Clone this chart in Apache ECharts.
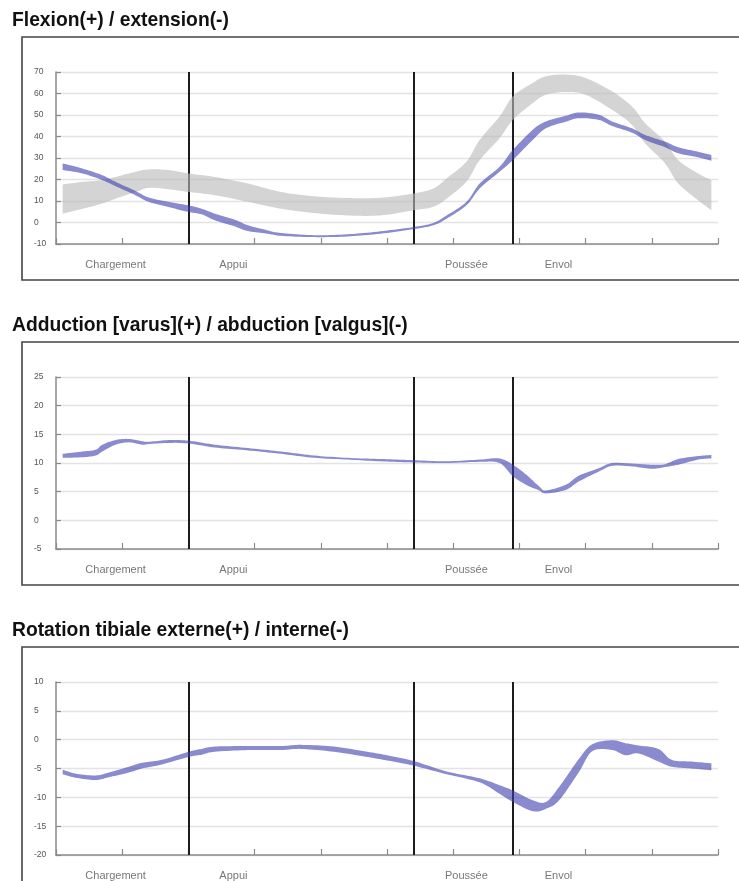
<!DOCTYPE html>
<html><head><meta charset="utf-8">
<script src="https://cdn.jsdelivr.net/npm/echarts@6/dist/echarts.min.js"></script>
<style>html,body{margin:0;padding:0;background:#fff}#c{width:739px;height:881px}</style>
</head><body><div id="c"></div>
<script>
// ---- text / axes ----
const titles = ['Flexion(+) / extension(-)', 'Adduction [varus](+) / abduction [valgus](-)', 'Rotation tibiale externe(+) / interne(-)'];
const yMin = [-10, -5, -20];
const yMax = [70, 25, 10];
const yStep = [10, 5, 5];
const phaseX = [20, 54, 69];
const phaseNames = ['Chargement', 'Appui', 'Poussée', 'Envol'];
const phaseLabelX = [9, 26.8, 62, 75.9];

// ---- panel 1 : flexion / extension ----
const flexNormX    = [1, 4, 7, 9, 12, 14, 17, 20, 24, 29, 34, 39, 44, 49, 54, 57, 59, 62, 64, 67, 69, 72, 74, 77, 80, 84, 87, 89, 92, 94, 97, 99];
const flexNormLow  = [4.1, 6.4, 8.8, 11.1, 14.2, 16.1, 15.5, 14.2, 12.7, 9.6, 6.4, 4.4, 3.3, 3.3, 5.7, 7.3, 11.1, 19.0, 29.0, 39.2, 47.7, 55.5, 59.4, 60.7, 59.4, 52.4, 45.4, 36.8, 27.5, 18.1, 10.3, 5.7];
const flexNormHigh = [17.7, 18.9, 19.7, 21.2, 23.6, 24.7, 24.4, 22.8, 21.2, 18.1, 14.2, 12.2, 11.4, 11.5, 13.5, 15.8, 20.5, 28.3, 38.4, 49.3, 58.6, 64.9, 68.0, 68.8, 67.2, 61.0, 54.0, 46.2, 37.6, 29.0, 22.8, 19.7];
const flexPatX     = [1, 4, 7, 9, 12, 14, 17, 20, 22, 24, 27, 29, 32, 34, 39, 44, 49, 54, 57, 59, 62, 64, 67, 69, 72, 74, 77, 79, 82, 84, 87, 89, 92, 94, 97, 99];
const flexPatLow   = [24.4, 22.8, 19.7, 16.9, 12.7, 9.6, 7.2, 4.9, 3.8, 1.0, -1.8, -4.0, -5.2, -6.2, -6.8, -6.5, -5.2, -3.1, -1.3, 1.8, 8.0, 15.8, 23.6, 29.0, 38.4, 43.8, 46.9, 48.5, 47.7, 44.9, 41.8, 38.4, 35.0, 32.2, 30.3, 28.7];
const flexPatHigh  = [27.5, 25.1, 22.0, 18.9, 14.7, 11.6, 9.6, 8.0, 6.4, 4.1, 1.3, -1.3, -3.7, -4.9, -5.9, -5.5, -4.1, -2.1, -0.2, 3.3, 9.6, 18.1, 25.9, 33.7, 43.1, 47.0, 49.6, 51.2, 50.1, 47.0, 43.8, 40.7, 37.6, 35.0, 32.9, 31.4];

// ---- panel 2 : adduction / abduction ----
const addX    = [1, 4, 6, 7, 9, 11, 13, 14, 17, 20, 24, 29, 34, 39, 44, 49, 54, 59, 64, 67, 69, 71, 73, 74, 77, 79, 82, 84, 87, 90, 92, 94, 97, 99];
const addLow  = [10.9, 11.0, 11.3, 12.0, 13.2, 13.6, 13.2, 13.3, 13.5, 13.4, 12.7, 12.2, 11.6, 10.9, 10.6, 10.3, 10.1, 10.0, 10.2, 10.0, 7.7, 6.2, 5.2, 4.7, 5.3, 6.8, 8.5, 9.5, 9.4, 9.0, 9.3, 9.7, 10.6, 10.8];
const addHigh = [11.6, 12.0, 12.3, 13.2, 14.0, 14.2, 13.8, 13.7, 14.0, 13.9, 13.2, 12.6, 12.0, 11.3, 10.9, 10.7, 10.5, 10.3, 10.6, 10.8, 9.7, 8.0, 5.9, 5.2, 6.2, 7.8, 9.1, 10.0, 9.9, 9.7, 9.8, 10.7, 11.2, 11.4];

// ---- panel 3 : rotation tibiale ----
const rotX    = [1, 3, 6, 8, 11, 13, 16, 20, 22, 24, 29, 34, 37, 42, 47, 50, 54, 59, 64, 67, 69, 72, 74, 76, 79, 81, 84, 86, 88, 91, 93, 96, 99];
const rotLow  = [-6.0, -6.6, -7.0, -6.5, -5.7, -5.0, -4.3, -3.0, -2.6, -2.1, -1.8, -1.8, -1.6, -2.1, -3.0, -3.6, -4.5, -6.0, -7.4, -9.4, -10.8, -12.4, -12.0, -10.5, -5.6, -2.0, -1.8, -2.7, -2.4, -3.8, -4.7, -5.0, -5.3];
const rotHigh = [-5.2, -5.9, -6.2, -5.7, -4.7, -4.0, -3.5, -2.1, -1.6, -1.2, -1.1, -1.1, -0.9, -1.2, -2.1, -2.7, -3.7, -5.5, -6.7, -7.9, -8.8, -10.5, -10.8, -8.2, -3.3, -0.8, -0.1, -0.6, -1.0, -1.6, -3.5, -3.8, -4.1];

// ---- build ----
const FONT = '"Liberation Sans", Arial, sans-serif';
const gridTops = [72, 377, 682];
const gridH = [172, 172, 173];
const boxTops = [37, 342, 647];
const boxH = [243, 243, 260];
const titleY = [21, 326, 631];
const NORM = 'rgba(185,185,185,0.62)';
const PAT = 'rgba(60,60,175,0.6)';

const grids = [], xAxes = [], yAxes = [], series = [], graphics = [];

// Catmull-Rom smoothing of an already projected pixel polyline (same role as smooth:true)
function smoothPts(pts, seg) {
  const out = [], n = pts.length;
  for (let i = 0; i < n - 1; i++) {
    const p0 = pts[Math.max(i - 1, 0)], p1 = pts[i], p2 = pts[i + 1], p3 = pts[Math.min(i + 2, n - 1)];
    for (let s = 0; s < seg; s++) {
      const t = s / seg, t2 = t * t, t3 = t2 * t;
      const f = (a, b, c, d) => 0.5 * ((2 * b) + (-a + c) * t + (2 * a - 5 * b + 4 * c - d) * t2 + (-a + 3 * b - 3 * c + d) * t3);
      out.push([f(p0[0], p1[0], p2[0], p3[0]), f(p0[1], p1[1], p2[1], p3[1])]);
    }
  }
  out.push(pts[n - 1]);
  return out;
}

function band(gi, xs, lo, hi, color, z) {
  series.push({
    type: 'custom', xAxisIndex: gi, yAxisIndex: gi, silent: true, z: z,
    data: [[xs[0], lo[0]]],
    renderItem: function (params, api) {
      const up = xs.map((x, i) => api.coord([x, hi[i]]));
      const dn = xs.map((x, i) => api.coord([x, lo[i]]));
      const pts = smoothPts(up, 10).concat(smoothPts(dn, 10).reverse());
      return { type: 'polygon', shape: { points: pts }, style: { fill: color } };
    }
  });
}

for (let p = 0; p < 3; p++) {
  grids.push({ left: 56, top: gridTops[p], width: 662, height: gridH[p] });
  xAxes.push({
    type: 'value', gridIndex: p, min: 0, max: 100, interval: 10,
    axisLine: { show: true, onZero: false, lineStyle: { color: '#8a8a8a', width: 1.5 } },
    axisTick: { show: true, inside: true, length: 6, lineStyle: { color: '#8a8a8a', width: 1.2 } },
    axisLabel: { show: false }, splitLine: { show: false }
  });
  yAxes.push({
    type: 'value', gridIndex: p, min: yMin[p], max: yMax[p], interval: yStep[p],
    axisLine: { show: true, onZero: false, lineStyle: { color: '#8a8a8a', width: 1.5 } },
    axisTick: { show: true, inside: true, length: 5, lineStyle: { color: '#8a8a8a', width: 1.2 } },
    axisLabel: { show: true, fontSize: 8.5, color: '#555', fontFamily: FONT, align: 'left', margin: 22 },
    splitLine: { show: true, lineStyle: { color: '#e3e3e3', width: 1.3 } }
  });
  // phase separators + phase names
  series.push({
    type: 'scatter', xAxisIndex: p, yAxisIndex: p, clip: false, silent: true, z: 1,
    symbolSize: 1, itemStyle: { color: 'rgba(0,0,0,0)' },
    data: phaseLabelX.map((x, i) => ({ value: [x, yMin[p]], name: phaseNames[i] })),
    label: { show: true, formatter: '{b}', position: 'inside', offset: [0, 21], fontSize: 11, color: '#555', fontFamily: FONT },
    markLine: {
      silent: true, symbol: ['none', 'none'], z: 2, animation: false,
      label: { show: false },
      lineStyle: { color: '#1c1c1c', width: 2, type: 'solid' },
      data: phaseX.map(v => ({ xAxis: v }))
    }
  });
  graphics.push({
    type: 'rect', silent: true, z: 0,
    shape: { x: 22, y: boxTops[p], width: 760, height: boxH[p] },
    style: { fill: 'none', stroke: '#444', lineWidth: 1.6 }
  });
  graphics.push({
    type: 'text', silent: true,
    x: 12, y: titleY[p],
    style: { text: titles[p], font: 'bold 19.3px ' + FONT, fill: '#111', verticalAlign: 'middle', textVerticalAlign: 'middle' }
  });
}

band(0, flexNormX, flexNormLow, flexNormHigh, NORM, 10);
band(0, flexPatX, flexPatLow, flexPatHigh, PAT, 11);
band(1, addX, addLow, addHigh, PAT, 11);
band(2, rotX, rotLow, rotHigh, PAT, 11);

const chart = echarts.init(document.getElementById('c'), null, { renderer: 'canvas' });
chart.setOption({
  backgroundColor: '#fff', animation: false,
  grid: grids, xAxis: xAxes, yAxis: yAxes, series: series, graphic: graphics
});
</script></body></html>
